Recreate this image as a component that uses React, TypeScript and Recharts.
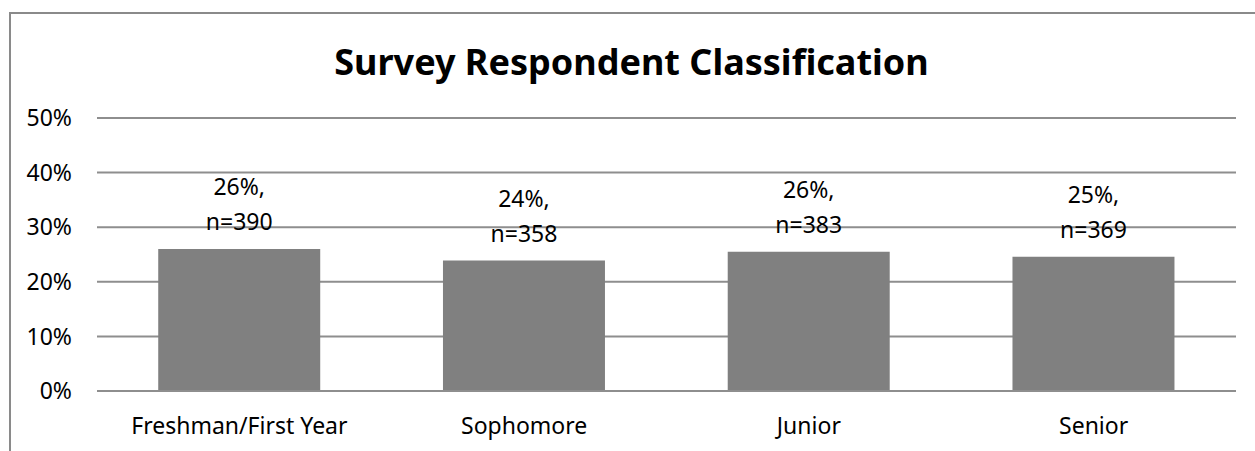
import React from "react";
import { BarChart, Bar, XAxis, YAxis, CartesianGrid, LabelList } from "recharts";

const categories = ["Freshman/First Year", "Sophomore", "Junior", "Senior"];
const percents = [26.0, 23.9, 25.5, 24.6];
const counts = [390, 358, 383, 369];
const pctLabels = ["26%", "24%", "26%", "25%"];
const yTicks = [0, 10, 20, 30, 40, 50];

const data = categories.map((c, i) => ({
  name: c,
  value: percents[i],
  n: counts[i],
  pctLabel: pctLabels[i],
}));

const FONT = "'Noto Sans', 'Open Sans', sans-serif";

const TwoLineLabel = (props: any) => {
  const { x, y, width, index } = props;
  const cx = x + width / 2;
  const d = data[index];
  return (
    <g>
      <text x={cx} y={y - 63} textAnchor="middle" dominantBaseline="central" fontFamily={FONT} fontSize={23} fill="#000">
        {d.pctLabel + ","}
      </text>
      <text x={cx} y={y - 28} textAnchor="middle" dominantBaseline="central" fontFamily={FONT} fontSize={23} fill="#000">
        {"n=" + d.n}
      </text>
    </g>
  );
};

export default function App() {
  return (
    <div style={{ position: "absolute", left: 0, top: 0, width: 1255, height: 451, overflow: "hidden", background: "#fff" }}>
      <div
        style={{
          position: "absolute",
          left: 9,
          top: 12,
          width: 1300,
          height: 500,
          borderTop: "2px solid #8a8a8a",
          borderLeft: "2px solid #8a8a8a",
        }}
      />
      <div
        style={{
          position: "absolute",
          left: 0,
          top: 40,
          width: 1263,
          textAlign: "center",
          fontFamily: FONT,
          fontWeight: 700,
          fontSize: 36,
          lineHeight: "44px",
          color: "#000",
        }}
      >
        Survey Respondent Classification
      </div>
      <div style={{ position: "absolute", left: 0, top: 0 }}>
        <BarChart
          width={1255}
          height={451}
          data={data}
          margin={{ top: 118, right: 19, bottom: 0, left: 0 }}
          barCategoryGap="21.5%"
        >
          <CartesianGrid vertical={false} stroke="#8e8e8e" strokeWidth={2} />
          <XAxis
            dataKey="name"
            height={60}
            axisLine={{ stroke: "#8e8e8e", strokeWidth: 2 }}
            tickLine={false}
            tickSize={0}
            tickMargin={27}
            tick={{ fill: "#000", fontSize: 23, fontFamily: FONT }}
            interval={0}
          />
          <YAxis
            width={97}
            domain={[0, 50]}
            ticks={yTicks}
            axisLine={false}
            tickLine={false}
            tickSize={0}
            tickMargin={25}
            tickFormatter={(v: number) => `${v}%`}
            tick={{ fill: "#000", fontSize: 23, fontFamily: FONT }}
          />
          <Bar dataKey="value" fill="#808080" isAnimationActive={false}>
            <LabelList dataKey="value" content={TwoLineLabel} />
          </Bar>
        </BarChart>
      </div>
    </div>
  );
}
